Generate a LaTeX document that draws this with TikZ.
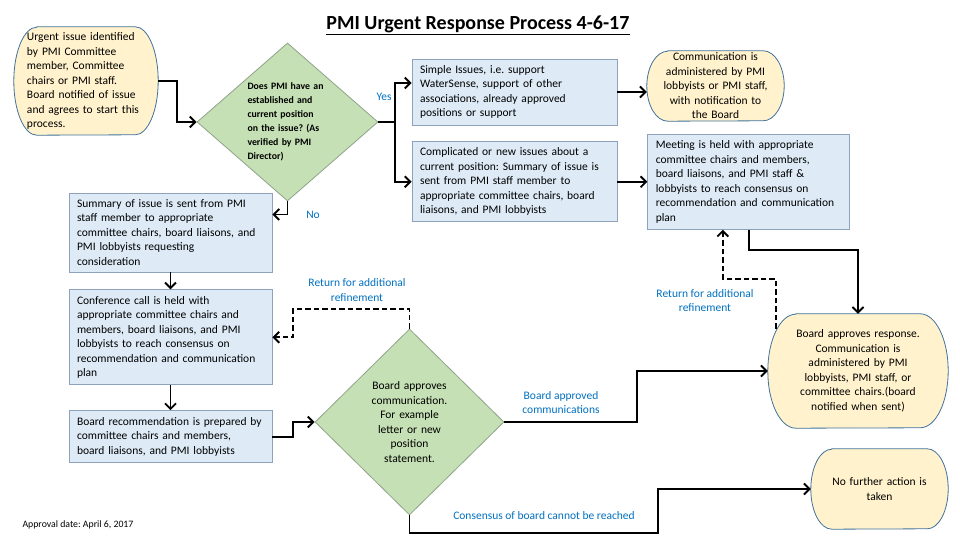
\documentclass[tikz,border=0pt]{standalone}
\usepackage{fontspec}
\setmainfont{Carlito}
\usepackage{tikz}
\usetikzlibrary{positioning,calc,shapes,arrows.meta,backgrounds}
\frenchspacing

\definecolor{boxfill}{HTML}{DEEBF7}
\definecolor{boxedge}{HTML}{8EA2BC}
\definecolor{termfill}{HTML}{FFF2CC}
\definecolor{termedge}{HTML}{41719C}
\definecolor{decfill}{HTML}{C5E0B4}
\definecolor{decedge}{HTML}{8FA38A}
\definecolor{lblblue}{HTML}{0070C0}
\newcommand{\boxfont}{\fontsize{11.5}{14.5}\selectfont}

\tikzset{
  box/.style={rectangle, draw=boxedge, fill=boxfill, line width=0.8pt, inner xsep=8pt, inner ysep=0pt, align=left, font=\boxfont},
  term/.style={inner sep=0pt, align=center, font=\boxfont},
  termline/.style={draw=termedge, fill=termfill, line width=0.8pt},
  dec/.style={diamond, draw=decedge, fill=decfill, line width=0.8pt, inner sep=0pt, font=\boxfont},
  flow/.style={line width=1.9pt, -{Straight Barb[length=5.5pt,width=11pt,line width=1.9pt]}},
  back/.style={flow, dash pattern=on 5.5pt off 3pt},
  lbl/.style={text=lblblue, align=center, font=\boxfont}
}

\begin{document}
\begin{tikzpicture}[x=1pt,y=1pt]
\useasboundingbox (0,0) rectangle (960,540);
% title and note
\node (title) at (478,515) {\fontsize{20}{24}\selectfont\bfseries\underline{PMI Urgent Response Process 4-6-17}};
\node[anchor=west,font=\fontsize{9.8}{12}\selectfont] (date) at (19,15) {Approval date: April 6, 2017};
% nodes
\node[term,minimum width=144pt,minimum height=108pt,text width=118pt,align=left] (start) at (86,459) {Urgent issue identified\\by PMI Committee\\member, Committee\\chairs or PMI staff.\\Board notified of issue\\and agrees to start this\\process.};
\node[dec,aspect=1.15,minimum width=181pt,minimum height=158pt,text width=80pt,align=left,font=\fontsize{9.8}{13.9}\selectfont\bfseries] (d1) at (287.5,418) {Does PMI have an\\established and\\current position\\on the issue? (As\\verified by PMI\\Director)};
\node[box,text width=189pt,minimum height=66pt] (simple) at (514.5,448) {Simple Issues, i.e. support\\WaterSense, support of other\\associations, already approved\\positions or support};
\node[box,text width=189pt,minimum height=80pt] (compl) [below=16pt of simple] {Complicated or new issues about a\\current position: Summary of issue is\\sent from PMI staff member to\\appropriate committee chairs, board\\liaisons, and PMI lobbyists};
\node[term,minimum width=137pt,minimum height=70pt,text width=125pt] (comm) at (715.5,454) {Communication is\\administered by PMI\\lobbyists or PMI staff,\\with notification to\\the Board};
\node[box,text width=186pt,minimum height=95pt] (meet) [right=30pt of compl] {Meeting is held with appropriate\\committee chairs and members,\\board liaisons, and PMI staff \&\\lobbyists to reach consensus on\\recommendation and communication\\plan};
\node[box,text width=187pt,minimum height=79pt] (sum) at (170.5,307.5) {Summary of issue is sent from PMI\\staff member to appropriate\\committee chairs, board liaisons, and\\PMI lobbyists requesting\\consideration};
\node[box,text width=187pt,minimum height=95pt] (conf) [below=17pt of sum] {Conference call is held with\\appropriate committee chairs and\\members, board liaisons, and PMI\\lobbyists to reach consensus on\\recommendation and communication\\plan};
\node[box,text width=187pt,minimum height=52pt] (brec) [below=25pt of conf] {Board recommendation is prepared by\\committee chairs and members,\\board liaisons, and PMI lobbyists};
\node[dec,minimum width=189pt,minimum height=186pt,text width=90pt,align=center] (d2) at (409.5,118) {Board approves\\communication.\\For example\\letter or new\\position\\statement.};
\node[term,minimum width=180pt,minimum height=114pt,text width=160pt] (resp) at (858,169) {Board approves response.\\Communication is\\administered by PMI\\lobbyists, PMI staff, or\\committee chairs.(board\\notified when sent)};
\node[term,minimum width=137pt,minimum height=80pt,text width=120pt] (stop) at (879.5,51) {No further action is\\taken};
% rounded ends of the yellow nodes
\begin{scope}[on background layer]
\foreach \t/\r/\h in {start/23/54,comm/21/35,resp/28/57,stop/21/40}
  \draw[termline] ([xshift=\r pt]\t.north west) -- ([xshift=-\r pt]\t.north east)
    arc[start angle=90,end angle=-90,x radius=\r pt,y radius=\h pt]
    -- ([xshift=\r pt]\t.south west)
    arc[start angle=270,end angle=90,x radius=\r pt,y radius=\h pt] -- cycle;
\end{scope}
\coordinate (rtop) at ([shift={(8,-15)}]resp.north west);
% the arrows and labels
\draw[flow] (start.east) -- ++(19,0) |- (d1.west);
\draw[flow] (d1.east) -- ++(17,0) |- ([yshift=9pt]simple.west);
\draw[flow] (d1.east) -- ++(17,0) |- (compl.west);
\draw[flow] (simple.east) -- (simple.east -| comm.west);
\draw[flow] (compl.east) -- (meet.west);
\draw[flow] (meet.south) -- ++(0,-20) -| (resp.north);
\draw[back] (rtop) -- ++(0,50) -| ([xshift=-26pt]meet.south);
\draw[flow] (d1.south) |- ([yshift=18pt]sum.east);
\draw[flow] (sum.south) -- (conf.north);
\draw[flow] (conf.south) -- (brec.north);
\draw[flow] (brec.east) -- ++(21,0) |- (d2.west);
\draw[back] (d2.north) -- ++(0,20) -| ([xshift=21pt]conf.east) -- (conf.east);
\draw[flow] (d2.east) -- ++(133,0) |- (resp.west);
\draw[flow] (d2.south) -- ++(0,-18) -| ([xshift=-153pt]stop.west) -- (stop.west);
\node[lbl] (yes) at (384,443) {Yes};
\node[lbl] (no) at (313,325) {No};
\node[lbl] (ret1) at (357,250) {Return for additional\\refinement};
\node[lbl] (ret2) at (705,239.5) {Return for additional\\refinement};
\node[lbl] (appr) at (561,137.5) {Board approved\\communications};
\node[lbl] (cons) at (544,24) {Consensus of board cannot be reached};
\end{tikzpicture}
\end{document}
